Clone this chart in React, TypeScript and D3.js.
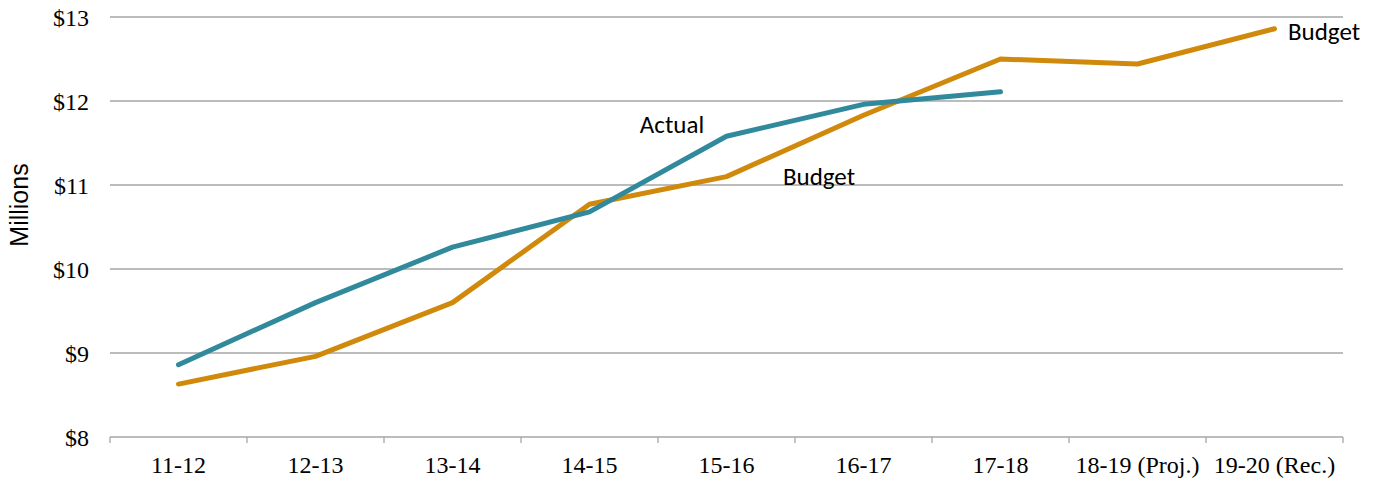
import React from "react";
import * as d3 from "d3";

const categories = ["11-12", "12-13", "13-14", "14-15", "15-16", "16-17", "17-18", "18-19 (Proj.)", "19-20 (Rec.)"];
const actual = [8.86, 9.6, 10.26, 10.68, 11.58, 11.96, 12.11];
const budget = [8.63, 8.96, 9.6, 10.77, 11.1, 11.83, 12.5, 12.44, 12.86];
const yTicks = [8, 9, 10, 11, 12, 13];

const W = 1381, H = 481;
const left = 110, right = 1343, top = 17, bottom = 437;

export default function App() {
  const x = d3.scaleBand<string>().domain(categories).range([left, right]);
  const y = d3.scaleLinear().domain([8, 13]).range([bottom, top]);
  const cx = (i: number) => (x(categories[i]) as number) + x.bandwidth() / 2;
  const line = d3.line<number>().x((_, i) => cx(i)).y((d) => y(d));
  const serif = "'Liberation Serif', 'Times New Roman', serif";
  const sans = "Carlito, 'Open Sans', 'Liberation Sans', sans-serif";
  return (
    <svg width={W} height={H} style={{ position: "absolute", left: 0, top: 0 }}>
      {yTicks.map((t) => (
        <g key={t}>
          {t !== 8 && <line x1={left} x2={right} y1={y(t)} y2={y(t)} stroke="#a6a6a6" strokeWidth={1.3} />}
          <text x={left - 21} y={y(t) + 9} textAnchor="end" fontFamily={serif} fontSize={24} fill="#000">${t}</text>
        </g>
      ))}
      <line x1={left} x2={right} y1={bottom} y2={bottom} stroke="#a6a6a6" strokeWidth={1.3} />
      {[...categories.map((c) => x(c) as number), right].map((v, i) => (
        <line key={i} x1={v} x2={v} y1={bottom} y2={bottom + 6} stroke="#a6a6a6" strokeWidth={1.3} />
      ))}
      {categories.map((c, i) => (
        <text key={c} x={cx(i)} y={473} textAnchor="middle" fontFamily={serif} fontSize={24} fill="#000">{c}</text>
      ))}
      <text transform={`translate(28,205) rotate(-90)`} textAnchor="middle" fontFamily="'Liberation Sans', Arial, sans-serif" fontSize={25} fill="#000">Millions</text>
      <path d={line(budget) || ""} fill="none" stroke="#D0890A" strokeWidth={5} strokeLinecap="round" strokeLinejoin="round" />
      <path d={line(actual) || ""} fill="none" stroke="#31899C" strokeWidth={5} strokeLinecap="round" strokeLinejoin="round" />
      <text x={672} y={133} textAnchor="middle" fontFamily={sans} fontSize={25} fill="#000">Actual</text>
      <text x={819} y={185} textAnchor="middle" fontFamily={sans} fontSize={25} fill="#000">Budget</text>
      <text x={1288} y={40} textAnchor="start" fontFamily={sans} fontSize={25} fill="#000">Budget</text>
    </svg>
  );
}
